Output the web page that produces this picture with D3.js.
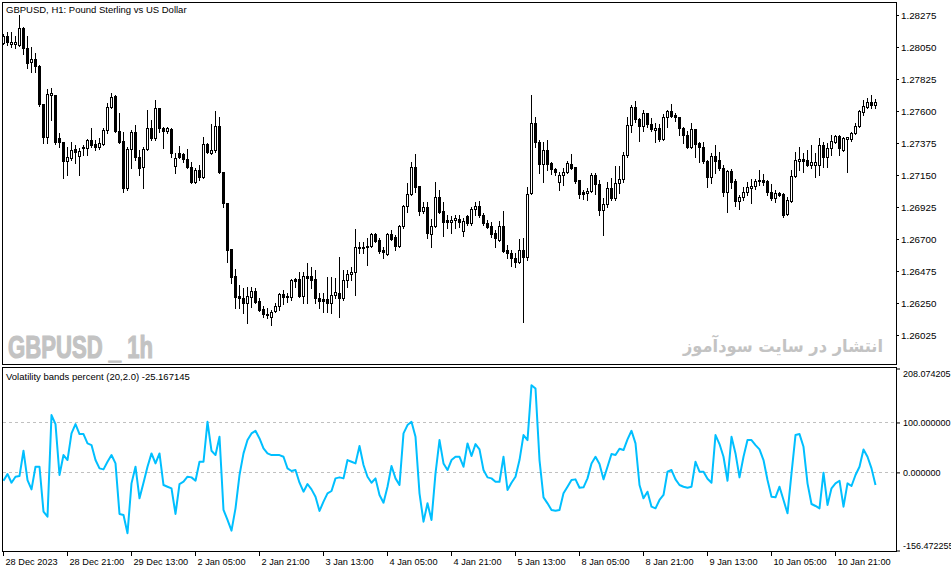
<!DOCTYPE html>
<html>
<head>
<meta charset="utf-8">
<script src="https://cdn.jsdelivr.net/npm/d3@7"></script>
<style>
body { margin: 0; background: #fff; }
svg { display: block; }
</style>
</head>
<body>
<svg id="chart" width="951" height="572"></svg>
<script>
// GBPUSD H1 candles, 28 Dec 2023 05:00 .. 11 Jan 2024
var open = [
1.28078,1.28127,1.28071,1.28071,1.28064,1.28184,1.28043,1.27945,1.27966,1.27916,
1.27649,1.27417,1.27713,1.27713,1.27410,1.27382,1.27249,1.27270,1.27333,1.27284,
1.27340,1.27340,1.27396,1.27368,1.27347,1.27368,1.27467,1.27628,1.27706,1.27460,
1.27389,1.27059,1.27333,1.27452,1.27277,1.27206,1.27333,1.27481,1.27410,1.27621,
1.27481,1.27460,1.27474,1.27213,1.27305,1.27298,1.27263,1.27206,1.27101,1.27185,
1.27136,1.27368,1.27305,1.27326,1.27495,1.27171,1.26953,1.26630,1.26440,1.26300,
1.26286,1.26250,1.26293,1.26335,1.26264,1.26208,1.26173,1.26152,1.26194,1.26229,
1.26314,1.26293,1.26293,1.26419,1.26419,1.26300,1.26440,1.26440,1.26419,1.26286,
1.26278,1.26278,1.26250,1.26307,1.26321,1.26286,1.26412,1.26454,1.26468,1.26644,
1.26637,1.26644,1.26651,1.26735,1.26693,1.26623,1.26595,1.26735,1.26714,1.26651,
1.26792,1.26932,1.27017,1.27206,1.27073,1.26897,1.26925,1.26735,1.26792,1.26996,
1.26897,1.26834,1.26820,1.26834,1.26841,1.26757,1.26862,1.26813,1.26911,1.26932,
1.26869,1.26813,1.26792,1.26742,1.26693,1.26792,1.26623,1.26602,1.26567,1.26539,
1.26623,1.26574,1.27024,1.27516,1.27382,1.27228,1.27326,1.27235,1.27192,1.27101,
1.27150,1.27171,1.27228,1.27206,1.27115,1.27031,1.27024,1.27038,1.27150,1.27087,
1.26904,1.26946,1.27059,1.26989,1.27094,1.27122,1.27291,1.27502,1.27628,1.27544,
1.27495,1.27586,1.27509,1.27467,1.27481,1.27403,1.27558,1.27600,1.27572,1.27558,
1.27481,1.27431,1.27347,1.27474,1.27375,1.27347,1.27249,1.27136,1.27284,1.27256,
1.27199,1.27031,1.27178,1.27108,1.26967,1.26996,1.27031,1.27059,1.27073,1.27108,
1.27115,1.27108,1.27031,1.26989,1.27024,1.27017,1.26876,1.26967,1.27143,1.27249,
1.27263,1.27256,1.27220,1.27220,1.27220,1.27361,1.27277,1.27340,1.27382,1.27424,
1.27326,1.27403,1.27403,1.27445,1.27495,1.27593,1.27628,1.27663,1.27642];

var high = [
1.28141,1.28155,1.28155,1.28127,1.28275,1.28191,1.28127,1.28050,1.28008,1.27923,
1.27649,1.27755,1.27762,1.27713,1.27445,1.27382,1.27347,1.27382,1.27361,1.27340,
1.27361,1.27403,1.27481,1.27396,1.27410,1.27481,1.27656,1.27727,1.27713,1.27586,
1.27452,1.27347,1.27467,1.27502,1.27326,1.27347,1.27607,1.27537,1.27677,1.27621,
1.27488,1.27488,1.27481,1.27305,1.27354,1.27305,1.27333,1.27242,1.27199,1.27220,
1.27417,1.27375,1.27509,1.27600,1.27558,1.27171,1.26953,1.26630,1.26489,1.26377,
1.26356,1.26363,1.26363,1.26356,1.26286,1.26229,1.26215,1.26201,1.26250,1.26321,
1.26342,1.26321,1.26419,1.26426,1.26468,1.26468,1.26532,1.26503,1.26482,1.26321,
1.26321,1.26433,1.26433,1.26426,1.26574,1.26482,1.26482,1.26503,1.26771,1.26679,
1.26679,1.26707,1.26742,1.26742,1.26707,1.26644,1.26742,1.26764,1.26728,1.26799,
1.26939,1.27094,1.27242,1.27298,1.27073,1.26960,1.26960,1.26841,1.27101,1.27045,
1.26960,1.26869,1.26862,1.26869,1.26869,1.26848,1.26869,1.26925,1.26960,1.26967,
1.26883,1.26834,1.26820,1.26764,1.26827,1.26897,1.26658,1.26623,1.26602,1.26700,
1.26707,1.27066,1.27713,1.27558,1.27396,1.27382,1.27396,1.27242,1.27199,1.27171,
1.27199,1.27249,1.27298,1.27206,1.27115,1.27045,1.27059,1.27164,1.27164,1.27115,
1.26989,1.27101,1.27129,1.27213,1.27213,1.27312,1.27558,1.27642,1.27670,1.27551,
1.27607,1.27586,1.27551,1.27516,1.27509,1.27579,1.27607,1.27649,1.27586,1.27558,
1.27488,1.27460,1.27516,1.27474,1.27382,1.27382,1.27256,1.27305,1.27361,1.27312,
1.27220,1.27185,1.27192,1.27122,1.27010,1.27066,1.27101,1.27122,1.27122,1.27185,
1.27157,1.27115,1.27087,1.27045,1.27031,1.27024,1.26996,1.27185,1.27312,1.27347,
1.27305,1.27326,1.27361,1.27305,1.27410,1.27382,1.27375,1.27431,1.27431,1.27431,
1.27417,1.27417,1.27452,1.27516,1.27607,1.27677,1.27692,1.27713,1.27684];

var low = [
1.28071,1.28064,1.28050,1.28043,1.28057,1.28001,1.27902,1.27874,1.27874,1.27635,
1.27375,1.27375,1.27537,1.27368,1.27347,1.27129,1.27150,1.27256,1.27235,1.27150,
1.27291,1.27291,1.27347,1.27326,1.27333,1.27361,1.27445,1.27621,1.27453,1.27375,
1.27031,1.27045,1.27199,1.27256,1.27150,1.27059,1.27326,1.27396,1.27396,1.27452,
1.27340,1.27445,1.27277,1.27164,1.27270,1.27242,1.27199,1.27094,1.27094,1.27115,
1.27129,1.27305,1.27298,1.27312,1.27164,1.26925,1.26539,1.26391,1.26215,1.26215,
1.26180,1.26110,1.26222,1.26250,1.26194,1.26152,1.26145,1.26096,1.26187,1.26201,
1.26243,1.26257,1.26271,1.26363,1.26293,1.26250,1.26250,1.26356,1.26250,1.26215,
1.26187,1.26187,1.26180,1.26286,1.26152,1.26271,1.26363,1.26412,1.26307,1.26602,
1.26602,1.26517,1.26644,1.26679,1.26602,1.26567,1.26588,1.26693,1.26623,1.26644,
1.26778,1.26890,1.27010,1.27031,1.26869,1.26883,1.26707,1.26644,1.26785,1.26883,
1.26721,1.26778,1.26742,1.26778,1.26785,1.26721,1.26799,1.26799,1.26869,1.26855,
1.26799,1.26778,1.26714,1.26644,1.26686,1.26609,1.26567,1.26510,1.26503,1.26532,
1.26117,1.26553,1.27017,1.27347,1.27164,1.27101,1.27185,1.27157,1.27150,1.27045,
1.27080,1.27164,1.27192,1.27094,1.26989,1.26981,1.26974,1.27031,1.27017,1.26869,
1.26728,1.26925,1.26974,1.26974,1.27024,1.27101,1.27277,1.27452,1.27523,1.27389,
1.27460,1.27488,1.27460,1.27382,1.27389,1.27396,1.27488,1.27558,1.27530,1.27431,
1.27375,1.27340,1.27340,1.27277,1.27242,1.27235,1.27066,1.27094,1.27164,1.27185,
1.27003,1.26890,1.27059,1.26932,1.26911,1.26974,1.27010,1.26953,1.27052,1.27080,
1.27080,1.27010,1.26974,1.26960,1.27003,1.26855,1.26869,1.26960,1.27136,1.27185,
1.27171,1.27213,1.27199,1.27136,1.27150,1.27206,1.27206,1.27291,1.27375,1.27291,
1.27319,1.27171,1.27389,1.27438,1.27488,1.27572,1.27621,1.27621,1.27621];

var close = [
1.28127,1.28085,1.28085,1.28085,1.28184,1.28043,1.27938,1.27966,1.27916,1.27649,
1.27417,1.27720,1.27727,1.27382,1.27382,1.27249,1.27277,1.27326,1.27312,1.27319,
1.27347,1.27396,1.27361,1.27347,1.27375,1.27467,1.27628,1.27699,1.27460,1.27382,
1.27059,1.27333,1.27452,1.27277,1.27199,1.27333,1.27481,1.27410,1.27621,1.27481,
1.27460,1.27481,1.27305,1.27270,1.27277,1.27263,1.27206,1.27101,1.27185,1.27136,
1.27368,1.27312,1.27326,1.27495,1.27171,1.26953,1.26623,1.26433,1.26293,1.26286,
1.26250,1.26300,1.26335,1.26257,1.26201,1.26173,1.26166,1.26187,1.26229,1.26314,
1.26293,1.26300,1.26412,1.26405,1.26300,1.26440,1.26426,1.26412,1.26286,1.26264,
1.26264,1.26250,1.26307,1.26328,1.26286,1.26412,1.26454,1.26468,1.26644,1.26637,
1.26644,1.26651,1.26735,1.26686,1.26616,1.26609,1.26735,1.26700,1.26651,1.26792,
1.26932,1.27017,1.27206,1.27066,1.26897,1.26925,1.26742,1.26792,1.26996,1.26890,
1.26820,1.26820,1.26834,1.26848,1.26820,1.26827,1.26813,1.26911,1.26932,1.26869,
1.26813,1.26785,1.26735,1.26707,1.26792,1.26616,1.26602,1.26567,1.26539,1.26623,
1.26574,1.27017,1.27516,1.27382,1.27228,1.27326,1.27228,1.27192,1.27171,1.27150,
1.27171,1.27235,1.27199,1.27108,1.27017,1.27017,1.27038,1.27150,1.27087,1.26904,
1.26946,1.27059,1.26989,1.27094,1.27122,1.27291,1.27502,1.27628,1.27544,1.27495,
1.27586,1.27509,1.27474,1.27481,1.27403,1.27558,1.27600,1.27565,1.27558,1.27481,
1.27431,1.27347,1.27474,1.27368,1.27347,1.27249,1.27136,1.27284,1.27249,1.27199,
1.27031,1.27178,1.27101,1.26967,1.26996,1.27031,1.27066,1.27073,1.27108,1.27115,
1.27101,1.27031,1.26989,1.27024,1.27010,1.26869,1.26974,1.27143,1.27256,1.27263,
1.27249,1.27220,1.27242,1.27242,1.27361,1.27277,1.27340,1.27389,1.27424,1.27340,
1.27410,1.27417,1.27445,1.27495,1.27600,1.27635,1.27663,1.27642,1.27663];

// Volatility bands percent (20,2.0)
var vbp = [
-16.7,-3.3,-20.7,-8.7,-7.3,43.3,-15.3,-34,11.3,11.3,
-78.7,-88.7,114.7,96.7,-5.3,34.7,24.7,78,96.7,76.7,
76.7,58,54.7,24.7,8,6,21.3,34.7,18,-83.3,
-85.3,-122,-22,11.3,-52,-20.7,11.3,38,18,38,
-25.3,-28.7,-32,-83.3,-23.3,-18.7,-8.7,-10,-16.7,21.3,
21.3,101.3,43.3,34.7,71.3,-75.3,-95.3,-116.7,-72,-5.3,
38,64.7,78,83.3,68,48,38,34.7,34.7,34.7,
31.3,8,2.7,4.7,-20.7,-38.7,-23.3,-34,-48.7,-77.3,
-58.7,-42,-37.3,-12,-10,-12,24.7,21.3,18,52.7,
14.7,-8.7,-20.7,-12,-45.3,-60.7,-28.7,12.7,-12,-25.3,
78,94.7,101.3,71.3,-42,-98.7,-62,-95.3,-2,64.7,
18,4.7,24.7,31.3,31.3,11.3,58,32.7,56.7,46,
4.7,-10,-12,-18.7,-18.7,31.3,-35.3,-20.7,-8.7,24.7,
74.7,64.7,174.7,168,24.7,-50,-62,-75.3,-76.7,-75.3,
-42,-28.7,-15.3,-14,-30.7,-30,-12,18,31.3,16.7,
-14,11.3,36.7,34.7,47.3,44.7,66,83.3,58,-25.3,
-52,-38.7,-68.7,-72,-55.3,-45.3,1.3,4.7,-14,-25.3,
-28.7,-30.7,-28.7,21.3,1.3,1.3,-12.7,-20.7,74.7,56.7,
31.3,-16.7,71.3,38,-10,31.3,64.7,64.7,54.7,46,
24.7,-15.3,-48.7,-50,-28.7,-55.3,-82,-2,74.7,76.7,
51.3,-22,-63.3,-67.3,-72,-0.7,-65.3,-32,-22,-16.7,
-68.7,-22,-27.3,-5.3,11.3,46,31.3,8,-25.167145];

var priceTicks = [1.28275,1.28050,1.27825,1.27600,1.27375,1.27150,1.26925,1.26700,1.26475,1.26250,1.26025];
var vbpTicks = [208.074205, 100, 0, -156.472255];
var vbpLevels = [100, 0];
var timeLabels = ["28 Dec 2023","28 Dec 21:00","29 Dec 13:00","2 Jan 05:00","2 Jan 21:00",
  "3 Jan 13:00","4 Jan 05:00","4 Jan 21:00","5 Jan 13:00","8 Jan 05:00",
  "8 Jan 21:00","9 Jan 13:00","10 Jan 05:00","10 Jan 21:00"];
var timeBars = [0,16,32,48,64,80,96,112,128,144,160,176,192,208];

var svg = d3.select("#chart"),
    font = "'Liberation Sans', Arial, sans-serif",
    plotLeft = 2, plotRight = 896,
    upTop = 2, upBottom = 364,
    loTop = 367, loBottom = 551,
    n = close.length;

var fix6 = function(d) { return d.toFixed(6); };

var x = d3.scaleLinear().domain([0, n - 1]).range([3, 3 + 4 * (n - 1)]);
var y = d3.scaleLinear().domain([1.26025, 1.28275]).range([335, 15]);
var yv = d3.scaleLinear().domain([-156.472255, 208.074205]).range([550.5, 368.5]);

var defs = svg.append("defs");
defs.append("clipPath").attr("id", "clipUp")
  .append("rect").attr("x", plotLeft + 1).attr("y", upTop + 1)
  .attr("width", plotRight - plotLeft - 1).attr("height", upBottom - upTop - 1);
defs.append("clipPath").attr("id", "clipLo")
  .append("rect").attr("x", plotLeft + 1).attr("y", loTop + 1)
  .attr("width", plotRight - plotLeft - 1).attr("height", loBottom - loTop - 1);

// watermarks
svg.append("text")
  .attr("x", 8).attr("y", 358)
  .attr("font-family", "'Liberation Sans Narrow', 'Liberation Sans', Arial, sans-serif")
  .attr("font-weight", "bold")
  .attr("font-size", 31)
  .attr("textLength", 145)
  .attr("lengthAdjust", "spacingAndGlyphs")
  .attr("fill", "#c3c3c3")
  .attr("stroke", "#c3c3c3")
  .attr("stroke-width", 1.2)
  .text("GBPUSD _ 1h");

svg.append("text")
  .attr("x", 883).attr("y", 352)
  .attr("text-anchor", "end")
  .attr("font-family", "'DejaVu Sans', sans-serif")
  .attr("font-weight", "bold")
  .attr("font-size", 17.5)
  .attr("textLength", 200)
  .attr("lengthAdjust", "spacingAndGlyphs")
  .attr("fill", "#c3c3c3")
  .text("انتشار در سایت سودآموز");

// candles
var gc = svg.append("g").attr("clip-path", "url(#clipUp)").attr("shape-rendering", "crispEdges");
var candle = gc.selectAll("g.candle")
  .data(d3.range(n))
  .enter().append("g").attr("class", "candle");

candle.append("rect")
  .attr("x", function(i) { return x(i); })
  .attr("y", function(i) { return Math.round(y(high[i])); })
  .attr("width", 1)
  .attr("height", function(i) { return Math.round(y(low[i])) - Math.round(y(high[i])) + 1; })
  .attr("fill", "#000");

candle.append("rect")
  .attr("x", function(i) { return close[i] >= open[i] ? x(i) - 0.5 : x(i) - 1; })
  .attr("y", function(i) {
    var t = Math.round(y(Math.max(open[i], close[i])));
    return close[i] >= open[i] ? t + 0.5 : t;
  })
  .attr("width", function(i) { return close[i] >= open[i] ? 2 : 3; })
  .attr("height", function(i) {
    var t = Math.round(y(Math.max(open[i], close[i]))),
        b = Math.round(y(Math.min(open[i], close[i])));
    return close[i] >= open[i] ? Math.max(b - t, 0) : b - t + 1;
  })
  .attr("fill", function(i) { return close[i] >= open[i] ? "#fff" : "#000"; })
  .attr("stroke", function(i) { return close[i] >= open[i] ? "#000" : "none"; })
  .attr("stroke-width", 1);

// panel frames
svg.append("rect")
  .attr("x", plotLeft + 0.5).attr("y", upTop + 0.5)
  .attr("width", plotRight - plotLeft).attr("height", upBottom - upTop)
  .attr("fill", "none").attr("stroke", "#000");
svg.append("rect")
  .attr("x", plotLeft + 0.5).attr("y", loTop + 0.5)
  .attr("width", plotRight - plotLeft).attr("height", loBottom - loTop)
  .attr("fill", "none").attr("stroke", "#000");

svg.append("text")
  .attr("x", 6).attr("y", 13)
  .attr("font-family", font).attr("font-size", 9.5)
  .attr("fill", "#000")
  .text("GBPUSD, H1:  Pound Sterling vs US Dollar");

// price axis
var gy = svg.append("g")
  .attr("transform", "translate(" + plotRight + ",0)")
  .call(d3.axisRight(y).tickValues(priceTicks).tickSize(3).tickPadding(2).tickFormat(d3.format(".5f")));
gy.select(".domain").remove();
gy.attr("font-family", font).attr("font-size", 9.8);
gy.selectAll("text").attr("fill", "#000");

// indicator panel
var gl = svg.append("g").attr("clip-path", "url(#clipLo)");
gl.selectAll("line.level")
  .data(vbpLevels)
  .enter().append("line")
  .attr("class", "level")
  .attr("x1", plotLeft + 1).attr("x2", plotRight)
  .attr("y1", function(d) { return Math.round(yv(d)) + 0.5; })
  .attr("y2", function(d) { return Math.round(yv(d)) + 0.5; })
  .attr("stroke", "#c0c0c0")
  .attr("stroke-dasharray", "3,3");

var line = d3.line()
  .x(function(d, i) { return x(i) + 0.5; })
  .y(function(d) { return yv(d); });

gl.append("path")
  .datum(vbp)
  .attr("fill", "none")
  .attr("stroke", "#00bfff")
  .attr("stroke-width", 2)
  .attr("stroke-linejoin", "round")
  .attr("d", line);

svg.append("text")
  .attr("x", 6).attr("y", 380)
  .attr("font-family", font).attr("font-size", 9.5)
  .attr("fill", "#000")
  .text("Volatility bands percent (20,2.0) " + fix6(vbp[n - 1]));

var gv = svg.append("g")
  .attr("transform", "translate(" + plotRight + ",0)")
  .call(d3.axisRight(yv).tickValues(vbpTicks).tickSize(4).tickPadding(3).tickFormat(fix6));
gv.select(".domain").remove();
gv.attr("font-family", font).attr("font-size", 9);
gv.selectAll("text").attr("fill", "#000")
  .attr("dy", function(d) { return d === vbpTicks[0] ? "0.85em" : d === vbpTicks[vbpTicks.length - 1] ? "-0.25em" : "0.32em"; });

// time axis
var gx = svg.append("g")
  .attr("transform", "translate(0," + loBottom + ")")
  .call(d3.axisBottom(x).tickValues(timeBars).tickSize(5).tickPadding(2)
    .tickFormat(function(d, i) { return timeLabels[i]; }));
gx.select(".domain").remove();
gx.attr("font-family", font).attr("font-size", 9.2);
gx.selectAll("text").attr("fill", "#000").attr("text-anchor", "start").attr("x", 2).attr("dy", "0.75em");
</script>
</body>
</html>
